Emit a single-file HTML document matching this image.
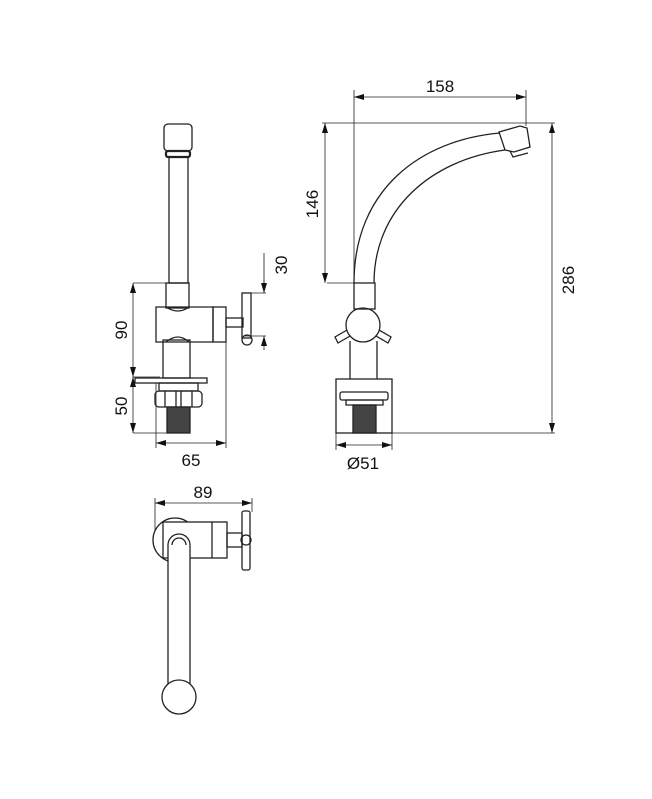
<!DOCTYPE html>
<html><head><style>html,body{margin:0;padding:0;background:#fff}</style></head><body>
<svg width="652" height="794" viewBox="0 0 652 794" xmlns="http://www.w3.org/2000/svg" font-family="'Liberation Sans',sans-serif">
<defs><marker id="a" viewBox="0 0 10 6" refX="10" refY="3" markerWidth="10" markerHeight="6" orient="auto-start-reverse" markerUnits="userSpaceOnUse"><path d="M0,0L10,3L0,6z" fill="#111"/></marker></defs>
<g fill="none" stroke="#222" stroke-width="1.3">
<!-- LEFT VIEW -->
<rect x="164" y="124" width="28" height="27" rx="4"/>
<rect x="166" y="151" width="24" height="6" rx="2" stroke-width="2.2"/>
<rect x="169" y="157" width="19" height="126"/>
<rect x="166" y="283" width="23" height="25"/>
<path d="M156,307H213V342H156Z"/>
<path d="M166,307q12,8 23,0" />
<path d="M166,342q12,-10 23,0"/>
<rect x="213" y="307" width="13" height="35"/>
<rect x="226" y="318" width="17" height="9"/>
<rect x="242" y="293" width="9" height="45"/>
<circle cx="247" cy="340" r="5"/>
<rect x="163" y="340" width="27" height="38"/>
<rect x="135" y="378" width="72" height="5"/>
<rect x="159" y="383" width="39" height="8"/>
<rect x="155" y="391" width="47" height="16" rx="4"/>
<path d="M165,391v16M176,391v16M181,391v16M192,391v16"/>
<rect x="167" y="407" width="23" height="26" fill="#444"/>
<path d="M133,283H166M133,377H160M133,433H167M156,383V448M226,342V448M245,293H266M245,336H266M264,253V293" stroke-width="0.8"/>
<path d="M133,283V377" marker-start="url(#a)" marker-end="url(#a)" stroke-width="0.8"/>
<path d="M133,377V433" marker-start="url(#a)" marker-end="url(#a)" stroke-width="0.8"/>
<path d="M156,443H226" marker-start="url(#a)" marker-end="url(#a)" stroke-width="0.8"/>
<path d="M264,280V293" marker-end="url(#a)" stroke-width="0.8"/>
<path d="M264,350V336" marker-end="url(#a)" stroke-width="0.8"/>
<!-- RIGHT VIEW -->
<path d="M354,283C354,190 420,140 500,133"/>
<path d="M374,283C374,210 430,160 505,150"/>
<path d="M499,132L520,126L527,128L530,147L514,152L505,150Z"/>
<path d="M510,151L513,157L528,153"/>
<rect x="354" y="283" width="21" height="26"/>
<circle cx="363" cy="325" r="17"/>
<path d="M347,330L335,337L338,343L350,336M379,330L391,337L388,343L376,336"/>
<path d="M350,341V379M377,341V379"/>
<rect x="336" y="379" width="56" height="54"/>
<rect x="340" y="392" width="48" height="8" rx="2"/>
<path d="M346,400h37v5h-37z"/>
<rect x="353" y="405" width="23" height="28" fill="#444"/>
<path d="M354,90V283M526,90V126M322,123H555M327,283H354M376,433H555M336,433V450M392,433V450" stroke-width="0.8"/>
<path d="M354,97H526" marker-start="url(#a)" marker-end="url(#a)" stroke-width="0.8"/>
<path d="M325,123V283" marker-start="url(#a)" marker-end="url(#a)" stroke-width="0.8"/>
<path d="M552,123V433" marker-start="url(#a)" marker-end="url(#a)" stroke-width="0.8"/>
<path d="M336,445H392" marker-start="url(#a)" marker-end="url(#a)" stroke-width="0.8"/>
<!-- TOP VIEW -->
<circle cx="175" cy="540" r="22"/>
<rect x="163" y="522" width="64" height="36" fill="#fff"/>
<path d="M212,522V558"/>
<rect x="227" y="533" width="15" height="14"/>
<rect x="242" y="511" width="8" height="59" rx="2"/>
<circle cx="246" cy="540" r="5"/>
<path d="M168,690V545a11,11 0 0 1 22,0V690" fill="#fff"/>
<path d="M172,545a7,7 0 0 1 14,0"/>
<circle cx="179" cy="697" r="17" fill="#fff"/>
<path d="M155,498V530M252,498V512" stroke-width="0.8"/>
<path d="M155,503H252" marker-start="url(#a)" marker-end="url(#a)" stroke-width="0.8"/>
</g>
<g fill="#111" font-size="17" text-anchor="middle">
<text x="191" y="466">65</text>
<text x="440" y="92">158</text>
<text x="363" y="469">Ø51</text>
<text x="203" y="498">89</text>
<text transform="translate(127,330) rotate(-90)">90</text>
<text transform="translate(127,406) rotate(-90)">50</text>
<text transform="translate(287,265) rotate(-90)">30</text>
<text transform="translate(318,204) rotate(-90)">146</text>
<text transform="translate(574,280) rotate(-90)">286</text>
</g>
</svg>
</body></html>
